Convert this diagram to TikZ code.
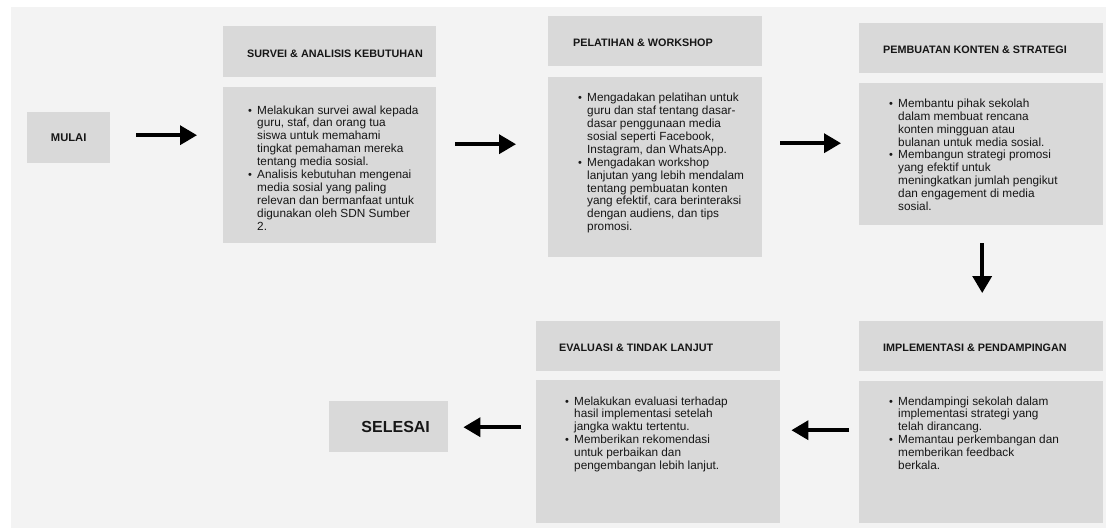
\documentclass[tikz,border=0pt]{standalone}
\usepackage{fontspec}
\setmainfont{Liberation Sans}
\usepackage{xcolor}
\usepackage{tikz}
\usetikzlibrary{arrows.meta,positioning}

\definecolor{bgcol}{HTML}{F3F3F3}
\definecolor{boxcol}{HTML}{D9D9D9}
\definecolor{txtcol}{HTML}{161616}

\newcommand{\bul}{{\fontsize{11}{11}\selectfont\textbullet}}

\begin{document}
\begin{tikzpicture}[x=1pt, y=-1pt,
box/.style={
		fill=boxcol,
		inner sep=0pt,
		anchor=north west,
		},
headtxt/.style={anchor=west, inner sep=0pt, text=txtcol, font=\fontsize{10.8}{13}\selectfont\bfseries},
bodytxt/.style={anchor=base west, inner sep=0pt, text=txtcol, font=\fontsize{11.8}{12.9}\selectfont},
flow/.style={draw=black, line width=3.6pt, -{Triangle[length=17pt,width=19pt]}}
]

\useasboundingbox (0,0) rectangle (1108,531);
\fill[bgcol] (11,7) rectangle (1106,528);

% start and end
\node[box, minimum width=83pt, minimum height=51pt, text=txtcol, font=\fontsize{11.2}{13}\selectfont\bfseries] (mulai) at (27,112) {MULAI};
\node[box, minimum width=119pt, minimum height=51pt, text=txtcol, font=\fontsize{16}{18}\selectfont\bfseries] (selesai) at (329,401) {\hspace*{14pt}SELESAI};

% head and body boxes
\node[box, minimum width=213pt, minimum height=51pt] (survhead) at (223,26) {};
\node[box, minimum width=213pt, minimum height=156pt] (survbody) at (223,87) {};
\node[box, minimum width=214pt, minimum height=50pt] (pelhead) at (548,16) {};
\node[box, minimum width=214pt, minimum height=180pt] (pelbody) at (548,77) {};
\node[box, minimum width=244pt, minimum height=50pt] (pembhead) at (859,23) {};
\node[box, minimum width=244pt, minimum height=142pt] (pembbody) at (859,83) {};
\node[box, minimum width=244pt, minimum height=50pt] (implhead) at (859,321) {};
\node[box, minimum width=244pt, minimum height=142pt] (implbody) at (859,381) {};
\node[box, minimum width=244pt, minimum height=50pt] (evalhead) at (536,321) {};
\node[box, minimum width=244pt, minimum height=143pt] (evalbody) at (536,380) {};

% titles
\node[headtxt] (survtitle) at ([xshift=24pt,yshift=-2pt]survhead.west) {SURVEI \& ANALISIS KEBUTUHAN};
\node[headtxt] (peltitle) at ([xshift=25pt,yshift=-2pt]pelhead.west) {PELATIHAN \& WORKSHOP};
\node[headtxt] (pembtitle) at ([xshift=24pt,yshift=-2pt]pembhead.west) {PEMBUATAN KONTEN \& STRATEGI};
\node[headtxt] (impltitle) at ([xshift=24pt,yshift=-2pt]implhead.west) {IMPLEMENTASI \& PENDAMPINGAN};
\node[headtxt] (evaltitle) at ([xshift=23pt,yshift=-2pt]evalhead.west) {EVALUASI \& TINDAK LANJUT};

% bullet texts
\node[bodytxt] (survtxt) at ([xshift=25pt,yshift=-27pt]survbody.north west) {%
\begin{tabular}[t]{@{}p{9pt}@{}l@{}}
\bul & Melakukan survei awal kepada\\
 & guru, staf, dan orang tua\\
 & siswa untuk memahami\\
 & tingkat pemahaman mereka\\
 & tentang media sosial.\\
\bul & Analisis kebutuhan mengenai\\
 & media sosial yang paling\\
 & relevan dan bermanfaat untuk\\
 & digunakan oleh SDN Sumber\\
 & 2.
\end{tabular}};
\node[bodytxt] (peltxt) at ([xshift=30pt,yshift=-24.7pt]pelbody.north west) {%
\begin{tabular}[t]{@{}p{9pt}@{}l@{}}
\bul & Mengadakan pelatihan untuk\\
 & guru dan staf tentang dasar-\\
 & dasar penggunaan media\\
 & sosial seperti Facebook,\\
 & Instagram, dan WhatsApp.\\
\bul & Mengadakan workshop\\
 & lanjutan yang lebih mendalam\\
 & tentang pembuatan konten\\
 & yang efektif, cara berinteraksi\\
 & dengan audiens, dan tips\\
 & promosi.
\end{tabular}};
\node[bodytxt] (pembtxt) at ([xshift=30pt,yshift=-24.3pt]pembbody.north west) {%
\begin{tabular}[t]{@{}p{9pt}@{}l@{}}
\bul & Membantu pihak sekolah\\
 & dalam membuat rencana\\
 & konten mingguan atau\\
 & bulanan untuk media sosial.\\
\bul & Membangun strategi promosi\\
 & yang efektif untuk\\
 & meningkatkan jumlah pengikut\\
 & dan engagement di media\\
 & sosial.
\end{tabular}};
\node[bodytxt] (impltxt) at ([xshift=30pt,yshift=-24pt]implbody.north west) {%
\begin{tabular}[t]{@{}p{9pt}@{}l@{}}
\bul & Mendampingi sekolah dalam\\
 & implementasi strategi yang\\
 & telah dirancang.\\
\bul & Memantau perkembangan dan\\
 & memberikan feedback\\
 & berkala.
\end{tabular}};
\node[bodytxt] (evaltxt) at ([xshift=29pt,yshift=-25pt]evalbody.north west) {%
\begin{tabular}[t]{@{}p{9pt}@{}l@{}}
\bul & Melakukan evaluasi terhadap\\
 & hasil implementasi setelah\\
 & jangka waktu tertentu.\\
\bul & Memberikan rekomendasi\\
 & untuk perbaikan dan\\
 & pengembangan lebih lanjut.
\end{tabular}};

% arrows
\draw[flow] ([xshift=26pt,yshift=2.5pt]mulai.east) -- ([xshift=-26pt,yshift=30pt]survbody.west);
\draw[flow] ([xshift=19pt,yshift=21pt]survbody.east) -- ([xshift=-32pt,yshift=23pt]pelbody.west);
\draw[flow] ([xshift=18pt,yshift=24pt]pelbody.east) -- ([xshift=-18pt,yshift=11pt]pembbody.west);
\draw[flow] ([xshift=1pt,yshift=-18pt]pembbody.south) -- ([xshift=1pt,yshift=28pt]implhead.north);
\draw[flow] ([xshift=-10pt,yshift=22pt]implbody.west) -- ([xshift=11pt,yshift=21.5pt]evalbody.east);
\draw[flow] ([xshift=-15pt,yshift=24.5pt]evalbody.west) -- ([xshift=15pt,yshift=-0.5pt]selesai.east);

\end{tikzpicture}
\end{document}
